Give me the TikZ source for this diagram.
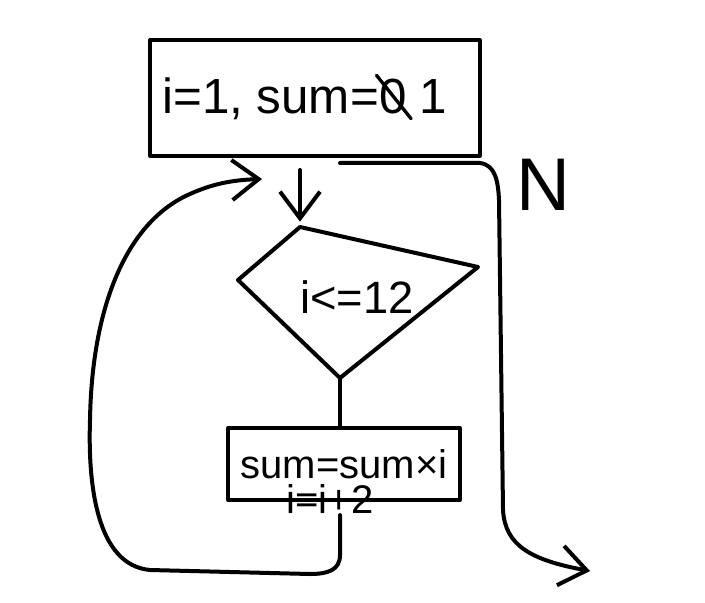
\documentclass[tikz,border=0pt]{standalone}
\usepackage{fontspec}
\setmainfont{Liberation Sans}
\usepackage{tikz}
\usetikzlibrary{arrows.meta}

\begin{document}
\begin{tikzpicture}[x=0.75pt,y=-0.75pt,
        flow/.style={line width=3pt,line cap=round,line join=round},
        box/.style={draw,flow,rectangle,inner sep=0pt},
        barb/.style={-{Straight Barb[length=20pt,width=30pt,line width=3pt]}},
        hand/.style={font=\fontsize{34}{36}\selectfont,inner sep=0pt}]
        \useasboundingbox (0,0) rectangle (705,602);

        \node[box,minimum width=247pt,minimum height=87pt] (init) at (315,98) {};
        \node[hand,font=\fontsize{37}{40}\selectfont,anchor=base west] (initA) at (162,114) {i=1, sum=};
        \node[hand,font=\fontsize{37}{40}\selectfont,anchor=base west] (zero) at (initA.base east) {0};
        \node[hand,font=\fontsize{37}{40}\selectfont,anchor=base west] (one) at ([xshift=9pt]zero.base east) {1};
        \draw[line width=2.5pt,line cap=round] ([xshift=-2pt,yshift=3pt]zero.north west) -- ([xshift=3pt,yshift=-3pt]zero.south east);

        \coordinate (cT) at (300,227);
        \coordinate (cR) at (478,267);
        \coordinate (cB) at (340,378);
        \coordinate (cL) at (238,280);
        \draw[flow] (cT) -- (cR) -- (cB) -- (cL) -- cycle;
        \node[hand] (cond) at (357,297) {i<=12};

        \node[box,font=\fontsize{30}{31}\selectfont,minimum width=174pt,minimum height=54pt] (body) at (344,464) {sum=sum×i};
        \node[font=\fontsize{30}{31}\selectfont,inner sep=1pt] (step) at (330,499) {i=i+2};

        \coordinate (loopin) at (262,179);
        \coordinate (split) at (340,163);
        \coordinate (stop) at (590,571);
        \node[font=\fontsize{56}{60}\selectfont] (no) at (543,185) {N};

        \draw[flow,barb,shorten <=9pt,shorten >=4pt] (init.south -| cT) -- (cT);
        \draw[flow] (cB) -- (cB |- body.north);
        \draw[flow,barb] (step.south -| cB) -- (340,555) .. controls (340,570) and (328,574) .. (310,574)
            -- (150,570) .. controls (95,565) and (88,480) .. (90,420)
            .. controls (92,300) and (130,220) .. (190,194) .. controls (212,184) and (232,180) .. (loopin);
        \draw[flow,barb] (split) -- (480,163) .. controls (495,165) and (498,180) .. (499,200)
            -- (503,510) .. controls (505,545) and (530,560) .. (stop);
\end{tikzpicture}
\end{document}
